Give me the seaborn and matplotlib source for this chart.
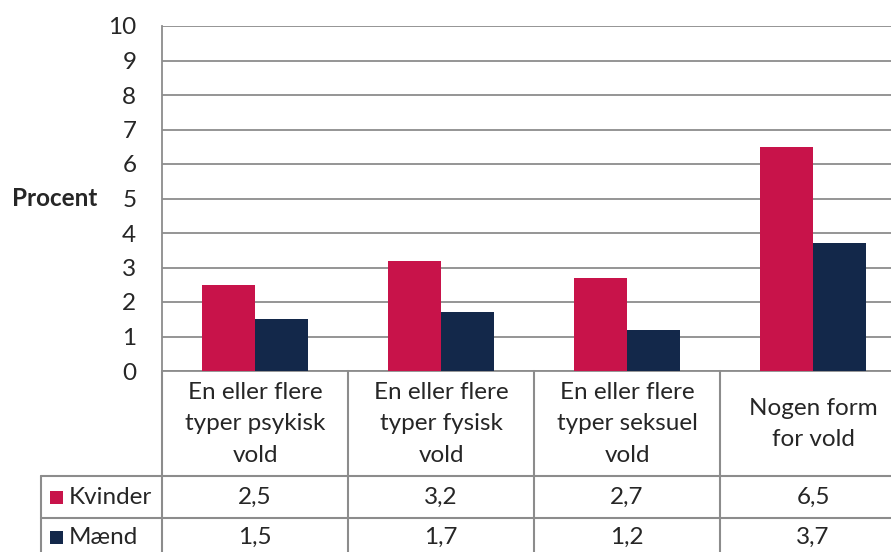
import pandas as pd
import matplotlib
matplotlib.use("Agg")
import matplotlib.pyplot as plt
from matplotlib.patches import Rectangle
from matplotlib.lines import Line2D
import seaborn as sns

categories = [
    "En eller flere\ntyper psykisk\nvold",
    "En eller flere\ntyper fysisk\nvold",
    "En eller flere\ntyper seksuel\nvold",
    "Nogen form\nfor vold",
]
series = ["Kvinder", "Mænd"]
kvinder = [2.5, 3.2, 2.7, 6.5]
maend = [1.5, 1.7, 1.2, 3.7]
colors = ["#C8134A", "#13284A"]

df = pd.DataFrame({
    "kategori": categories * 2,
    "køn": ["Kvinder"] * 4 + ["Mænd"] * 4,
    "procent": kvinder + maend,
})

sns.set_style("white")
plt.rcParams["font.family"] = ["Lato", "DejaVu Sans"]
FS = 17.5

W, H = 891, 552
fig = plt.figure(figsize=(W / 100, H / 100), dpi=100)
# plot area in pixels: x 162..906 (runs past the right edge), y 26..371
ax = fig.add_axes([162 / W, 1 - 371 / H, (906 - 162) / W, (371 - 26) / H])

sns.barplot(data=df, x="kategori", y="procent", hue="køn", palette=colors,
            saturation=1, width=0.57, linewidth=0, legend=False, ax=ax, zorder=3)

grid_col = "#8C8C8C"
ax.set_xlim(-0.5, 3.5)
ax.set_ylim(0, 10)
ax.set_yticks(range(0, 11))
ax.yaxis.grid(True, color=grid_col, lw=1.3)
ax.set_axisbelow(True)
ax.tick_params(axis="y", direction="out", length=6.5, width=1.3, color=grid_col,
               pad=12, labelsize=FS)
ax.set_xticks([])
ax.set_xlabel("")
ax.set_ylabel("")
for s in ["top", "right"]:
    ax.spines[s].set_visible(False)
for s in ["left", "bottom"]:
    ax.spines[s].set_color(grid_col)
    ax.spines[s].set_linewidth(1.3)

fig.text(55 / W, 1 - 198 / H, "Procent", ha="center", va="center",
         fontsize=FS, fontweight="bold")

# data table under the plot
tr = ax.get_xaxis_transform()
y_hdr = (371 - 476) / 345
y_mid = (371 - 518) / 345
y_bot = (371 - 562) / 345
x_left = -0.5 - 121 / 186
x_right = 3.6
lc = "#8C8C8C"
lw = 1.5

for xb in [-0.5, 0.5, 1.5, 2.5, 3.5]:
    ax.add_line(Line2D([xb, xb], [0, y_bot], transform=tr, color=lc, lw=lw, clip_on=False))
ax.add_line(Line2D([x_left, x_left], [y_hdr, y_bot], transform=tr, color=lc, lw=lw, clip_on=False))
for yb in [y_hdr, y_mid]:
    ax.add_line(Line2D([x_left, x_right], [yb, yb], transform=tr, color=lc, lw=lw, clip_on=False))

for i, cat in enumerate(categories):
    ax.text(i, (371 - 424) / 345, cat, transform=tr, ha="center", va="center",
            fontsize=FS, linespacing=1.62, clip_on=False)

rows = [kvinder, maend]
row_y = [(371 - 497) / 345, (371 - 537) / 345]
for name, vals, col, yc in zip(series, rows, colors, row_y):
    sq = 13 / 186
    sh = 13 / 345
    ax.add_patch(Rectangle((x_left + 9 / 186, yc - sh / 2), sq, sh, transform=tr,
                           facecolor=col, edgecolor="none", clip_on=False))
    ax.text(x_left + 28 / 186, yc, name, transform=tr, ha="left", va="center",
            fontsize=FS, clip_on=False)
    for i, v in enumerate(vals):
        ax.text(i, yc, f"{v:.1f}".replace(".", ","), transform=tr, ha="center",
                va="center", fontsize=FS, clip_on=False)

fig.savefig("out.png", dpi=100)
